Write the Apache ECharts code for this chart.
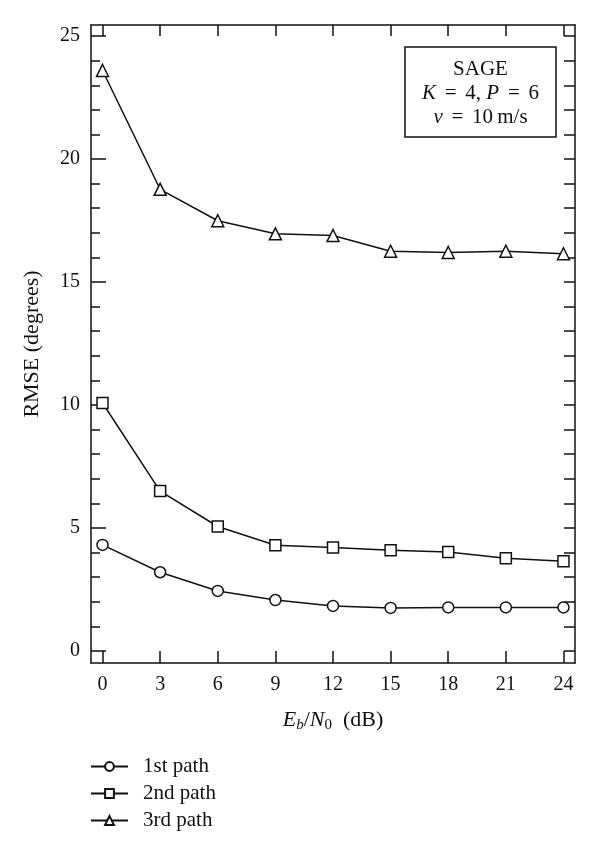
<!DOCTYPE html>
<html>
<head>
<meta charset="utf-8">
<script src="https://cdn.jsdelivr.net/npm/echarts@6/dist/echarts.min.js"></script>
<style>html,body{margin:0;padding:0;background:#fff}#c{width:600px;height:857px}</style>
</head>
<body>
<div id="c"></div>
<script>
var xValues = [0, 3, 6, 9, 12, 15, 18, 21, 24];
var path1 = [4.31, 3.2, 2.44, 2.07, 1.83, 1.75, 1.77, 1.77, 1.77];
var path2 = [10.08, 6.5, 5.06, 4.3, 4.21, 4.09, 4.02, 3.77, 3.65];
var path3 = [23.6, 18.77, 17.49, 16.96, 16.89, 16.25, 16.2, 16.25, 16.15];
var seriesNames = ['1st path', '2nd path', '3rd path'];
var xTicks = [0, 3, 6, 9, 12, 15, 18, 21, 24];
var yMajorTicks = [0, 5, 10, 15, 20, 25];
var yMinorTicks = [0,1,2,3,4,5,6,7,8,9,10,11,12,13,14,15,16,17,18,19,20,21,22,23,24,25];

var FONT = '"Liberation Serif", "DejaVu Serif", serif';
var chart = echarts.init(document.getElementById('c'), null, {renderer: 'canvas'});

function pairs(arr) { return xValues.map(function (x, i) { return [x, arr[i]]; }); }
function mk(name, data, symbol, size) {
  return {
    name: name, type: 'line', data: pairs(data), symbol: symbol, symbolSize: size,
    showAllSymbol: true,
    lineStyle: {color: '#111', width: 1.5},
    itemStyle: {color: '#fff', borderColor: '#111', borderWidth: 1.5},
    emphasis: {disabled: true}, z: 3
  };
}
var X = {min: -0.6, max: 24.6};
var Y = {min: -0.49, max: 25.45};
var axisLine = {show: true, onZero: false, lineStyle: {color: '#111', width: 1.5}};
var tickStyle = {color: '#111', width: 1.5};
var SP = '\u2004\u200A';

chart.setOption({
  animation: false,
  backgroundColor: '#fff',
  textStyle: {fontFamily: FONT},
  grid: {left: 91, right: 25, top: 25, bottom: 194, containLabel: false},
  legend: {
    orient: 'vertical', left: 85, top: 751, itemGap: 6, itemWidth: 37, itemHeight: 11,
    textStyle: {fontFamily: FONT, fontSize: 21, color: '#111', padding: [0, 0, 0, 10]},
    data: seriesNames
  },
  xAxis: [{
    type: 'value', min: X.min, max: X.max, position: 'bottom',
    axisLine: axisLine,
    axisTick: {show: true, inside: true, length: 12, customValues: xTicks, lineStyle: tickStyle},
    axisLabel: {customValues: xTicks, fontFamily: FONT, fontSize: 20, color: '#111', margin: 12},
    splitLine: {show: false},
    name: '{i|E}{s|b}{n|/}{i|N}{z|0}{n|  (dB)}', nameLocation: 'middle', nameGap: 44,
    nameTextStyle: {
      rich: {
        i: {fontFamily: FONT, fontSize: 22, fontStyle: 'italic', color: '#111', lineHeight: 26},
        n: {fontFamily: FONT, fontSize: 22, color: '#111', lineHeight: 26},
        s: {fontFamily: FONT, fontSize: 15, color: '#111', lineHeight: 15, verticalAlign: 'bottom', fontStyle: 'italic'},
        z: {fontFamily: FONT, fontSize: 15, color: '#111', lineHeight: 15, verticalAlign: 'bottom'}
      }
    }
  }, {
    type: 'value', min: X.min, max: X.max, position: 'top',
    axisLine: axisLine,
    axisTick: {show: true, inside: true, length: 11, customValues: xTicks, lineStyle: tickStyle},
    axisLabel: {show: false}, splitLine: {show: false}
  }],
  yAxis: [{
    type: 'value', min: Y.min, max: Y.max, position: 'left',
    axisLine: axisLine,
    axisTick: {show: true, inside: true, length: 15, customValues: yMajorTicks, lineStyle: tickStyle},
    axisLabel: {customValues: yMajorTicks, fontFamily: FONT, fontSize: 20, color: '#111', margin: 11},
    splitLine: {show: false},
    name: 'RMSE (degrees)', nameLocation: 'middle', nameGap: 48,
    nameTextStyle: {fontFamily: FONT, fontSize: 22, color: '#111'}
  }, {
    type: 'value', min: Y.min, max: Y.max, position: 'left',
    axisLine: {show: false, onZero: false},
    axisTick: {show: true, inside: true, length: 9, customValues: yMinorTicks, lineStyle: tickStyle},
    axisLabel: {show: false}, splitLine: {show: false}
  }, {
    type: 'value', min: Y.min, max: Y.max, position: 'right',
    axisLine: axisLine,
    axisTick: {show: true, inside: true, length: 11, customValues: yMinorTicks, lineStyle: tickStyle},
    axisLabel: {show: false}, splitLine: {show: false}
  }],
  series: [
    mk(seriesNames[0], path1, 'circle', 11),
    mk(seriesNames[1], path2, 'rect', 11),
    mk(seriesNames[2], path3, 'triangle', 12)
  ],
  graphic: [{
    type: 'rect', shape: {x: 405, y: 47, width: 151, height: 90},
    style: {fill: '#fff', stroke: '#111', lineWidth: 1.5}, z: 10
  }, {
    type: 'text', x: 480.5, y: 93, z: 11,
    style: {
      text: '{n|SAGE}\n{i|K}{n|' + SP + '=' + SP + '4, }{i|P}{n|' + SP + '=' + SP + '6}\n{i|ν}{n|' + SP + '=' + SP + '10\u2009m/s}',
      align: 'center', verticalAlign: 'middle',
      rich: {
        n: {fontFamily: FONT, fontSize: 21, fill: '#111', lineHeight: 24},
        i: {fontFamily: FONT, fontSize: 21, fontStyle: 'italic', fill: '#111', lineHeight: 24}
      }
    }
  }]
});
</script>
</body>
</html>
